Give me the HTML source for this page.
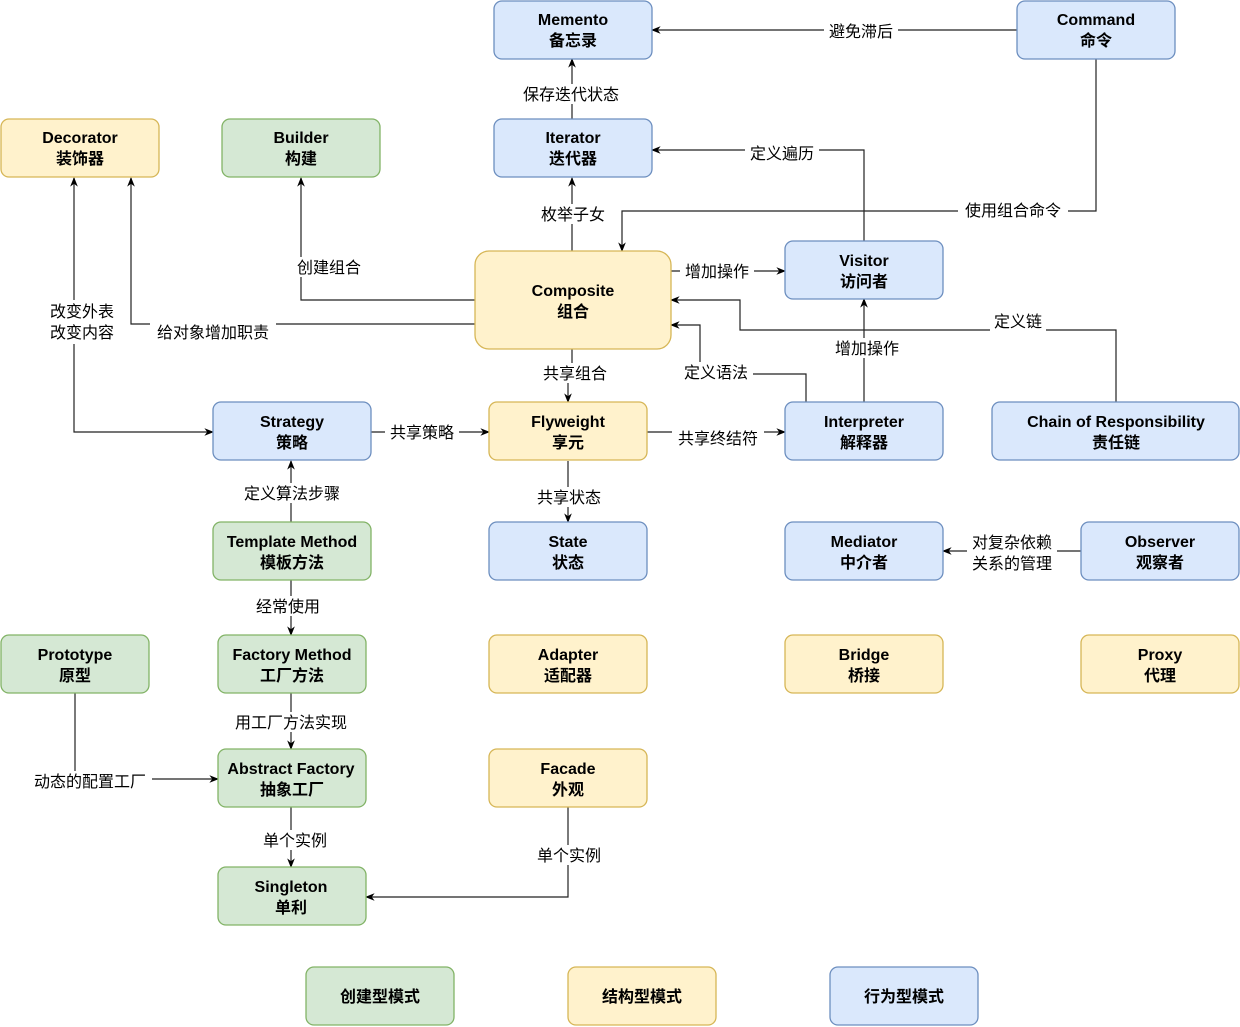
<!DOCTYPE html>
<html><head><meta charset="utf-8"><style>
html,body{margin:0;padding:0;background:#fff;}
svg{display:block;font-family:"Liberation Sans","Noto Sans CJK SC",sans-serif;}
.b{fill:#dae8fc;stroke:#6c8ebf;stroke-width:1.3}
.y{fill:#fff2cc;stroke:#d6b656;stroke-width:1.3}
.g{fill:#d5e8d4;stroke:#82b366;stroke-width:1.3}
.t{font-size:16px;font-weight:bold;text-anchor:middle;fill:#000}
.l{font-size:16px;text-anchor:middle;fill:#000}
.e{fill:none;stroke:#222;stroke-width:1.2}
.lb{fill:#fff}
</style></head><body>
<svg width="1240" height="1027" viewBox="0 0 1240 1027">
<defs><marker id="a" viewBox="0 0 10 10" refX="9" refY="5" markerWidth="8" markerHeight="8" orient="auto"><path d="M0,1 L10,5 L0,9 L3,5 z" fill="#000"/></marker></defs>
<g class="e" marker-end="url(#a)">
<path d="M1017,30 H652"/>
<path d="M1096,59 V211 H622 V251"/>
<path d="M572,119 V59"/>
<path d="M572,251 V178"/>
<path d="M864,241 V150 H652"/>
<path d="M671,271 H785"/>
<path d="M864,402 V299"/>
<path d="M1116,402 V330 H740 V300 H671"/>
<path d="M806,402 V374 H700 V325 H671"/>
<path d="M475,300 H301 V178"/>
<path d="M475,324 H131 V178"/>
<path d="M74,300 V178"/>
<path d="M74,300 V432 H213"/>
<path d="M572,349 V380 H568 V402"/>
<path d="M371,432 H489"/>
<path d="M647,432 H785"/>
<path d="M568,461 V522"/>
<path d="M291,522 V461"/>
<path d="M291,580 V635"/>
<path d="M1081,551 H943"/>
<path d="M291,693 V749"/>
<path d="M75,693 V779 H218"/>
<path d="M291,807 V867"/>
<path d="M568,807 V897 H366"/>
</g>
<g class="lb">
<rect x="824" y="21" width="74" height="20"/><rect x="958" y="200" width="110" height="20"/>
<rect x="516" y="84" width="110" height="20"/><rect x="536" y="204" width="74" height="20"/>
<rect x="745" y="143" width="74" height="20"/><rect x="680" y="261" width="74" height="20"/>
<rect x="830" y="338" width="74" height="20"/><rect x="990" y="311" width="56" height="20"/>
<rect x="679" y="362" width="74" height="20"/><rect x="292" y="257" width="74" height="20"/>
<rect x="150" y="322" width="126" height="20"/><rect x="45" y="300" width="74" height="44"/>
<rect x="538" y="363" width="74" height="20"/><rect x="385" y="422" width="74" height="20"/>
<rect x="672" y="428" width="92" height="20"/><rect x="532" y="487" width="74" height="20"/>
<rect x="237" y="483" width="110" height="20"/><rect x="251" y="596" width="74" height="20"/>
<rect x="967" y="532" width="90" height="42"/><rect x="228" y="712" width="126" height="20"/>
<rect x="26" y="771" width="126" height="20"/><rect x="258" y="830" width="74" height="20"/>
<rect x="532" y="845" width="74" height="20"/>
</g>
<g>
<text class="l" x="861" y="37">避免滞后</text>
<text class="l" x="1013" y="216">使用组合命令</text>
<text class="l" x="571" y="100">保存迭代状态</text>
<text class="l" x="573" y="220">枚举子女</text>
<text class="l" x="782" y="159">定义遍历</text>
<text class="l" x="717" y="277">增加操作</text>
<text class="l" x="867" y="354">增加操作</text>
<text class="l" x="1018" y="327">定义链</text>
<text class="l" x="716" y="378">定义语法</text>
<text class="l" x="329" y="273">创建组合</text>
<text class="l" x="213" y="338">给对象增加职责</text>
<text class="l" x="82" y="317">改变外表</text>
<text class="l" x="82" y="338">改变内容</text>
<text class="l" x="575" y="379">共享组合</text>
<text class="l" x="422" y="438">共享策略</text>
<text class="l" x="718" y="444">共享终结符</text>
<text class="l" x="569" y="503">共享状态</text>
<text class="l" x="292" y="499">定义算法步骤</text>
<text class="l" x="288" y="612">经常使用</text>
<text class="l" x="1012" y="548">对复杂依赖</text>
<text class="l" x="1012" y="569">关系的管理</text>
<text class="l" x="291" y="728">用工厂方法实现</text>
<text class="l" x="90" y="787">动态的配置工厂</text>
<text class="l" x="295" y="846">单个实例</text>
<text class="l" x="569" y="861">单个实例</text>
</g>
<g>
<rect class="b" x="494" y="1" width="158" height="58" rx="8"/><text class="t" x="573" y="25">Memento</text><text class="t" x="573" y="46">备忘录</text>
<rect class="b" x="1017" y="1" width="158" height="58" rx="8"/><text class="t" x="1096" y="25">Command</text><text class="t" x="1096" y="46">命令</text>
<rect class="y" x="1" y="119" width="158" height="58" rx="8"/><text class="t" x="80" y="143">Decorator</text><text class="t" x="80" y="164">装饰器</text>
<rect class="g" x="222" y="119" width="158" height="58" rx="8"/><text class="t" x="301" y="143">Builder</text><text class="t" x="301" y="164">构建</text>
<rect class="b" x="494" y="119" width="158" height="58" rx="8"/><text class="t" x="573" y="143">Iterator</text><text class="t" x="573" y="164">迭代器</text>
<rect class="y" x="475" y="251" width="196" height="98" rx="14"/><text class="t" x="573" y="296">Composite</text><text class="t" x="573" y="317">组合</text>
<rect class="b" x="785" y="241" width="158" height="58" rx="8"/><text class="t" x="864" y="266">Visitor</text><text class="t" x="864" y="287">访问者</text>
<rect class="b" x="213" y="402" width="158" height="58" rx="8"/><text class="t" x="292" y="427">Strategy</text><text class="t" x="292" y="448">策略</text>
<rect class="y" x="489" y="402" width="158" height="58" rx="8"/><text class="t" x="568" y="427">Flyweight</text><text class="t" x="568" y="448">享元</text>
<rect class="b" x="785" y="402" width="158" height="58" rx="8"/><text class="t" x="864" y="427">Interpreter</text><text class="t" x="864" y="448">解释器</text>
<rect class="b" x="992" y="402" width="247" height="58" rx="8"/><text class="t" x="1116" y="427">Chain of Responsibility</text><text class="t" x="1116" y="448">责任链</text>
<rect class="g" x="213" y="522" width="158" height="58" rx="8"/><text class="t" x="292" y="547">Template Method</text><text class="t" x="292" y="568">模板方法</text>
<rect class="b" x="489" y="522" width="158" height="58" rx="8"/><text class="t" x="568" y="547">State</text><text class="t" x="568" y="568">状态</text>
<rect class="b" x="785" y="522" width="158" height="58" rx="8"/><text class="t" x="864" y="547">Mediator</text><text class="t" x="864" y="568">中介者</text>
<rect class="b" x="1081" y="522" width="158" height="58" rx="8"/><text class="t" x="1160" y="547">Observer</text><text class="t" x="1160" y="568">观察者</text>
<rect class="g" x="1" y="635" width="148" height="58" rx="8"/><text class="t" x="75" y="660">Prototype</text><text class="t" x="75" y="681">原型</text>
<rect class="g" x="218" y="635" width="148" height="58" rx="8"/><text class="t" x="292" y="660">Factory Method</text><text class="t" x="292" y="681">工厂方法</text>
<rect class="y" x="489" y="635" width="158" height="58" rx="8"/><text class="t" x="568" y="660">Adapter</text><text class="t" x="568" y="681">适配器</text>
<rect class="y" x="785" y="635" width="158" height="58" rx="8"/><text class="t" x="864" y="660">Bridge</text><text class="t" x="864" y="681">桥接</text>
<rect class="y" x="1081" y="635" width="158" height="58" rx="8"/><text class="t" x="1160" y="660">Proxy</text><text class="t" x="1160" y="681">代理</text>
<rect class="g" x="218" y="749" width="148" height="58" rx="8"/><text class="t" x="291" y="774">Abstract Factory</text><text class="t" x="292" y="795">抽象工厂</text>
<rect class="y" x="489" y="749" width="158" height="58" rx="8"/><text class="t" x="568" y="774">Facade</text><text class="t" x="568" y="795">外观</text>
<rect class="g" x="218" y="867" width="148" height="58" rx="8"/><text class="t" x="291" y="892">Singleton</text><text class="t" x="291" y="913">单利</text>
<rect class="g" x="306" y="967" width="148" height="58" rx="8"/><text class="t" x="380" y="1002">创建型模式</text>
<rect class="y" x="568" y="967" width="148" height="58" rx="8"/><text class="t" x="642" y="1002">结构型模式</text>
<rect class="b" x="830" y="967" width="148" height="58" rx="8"/><text class="t" x="904" y="1002">行为型模式</text>
</g>
</svg>
</body></html>
